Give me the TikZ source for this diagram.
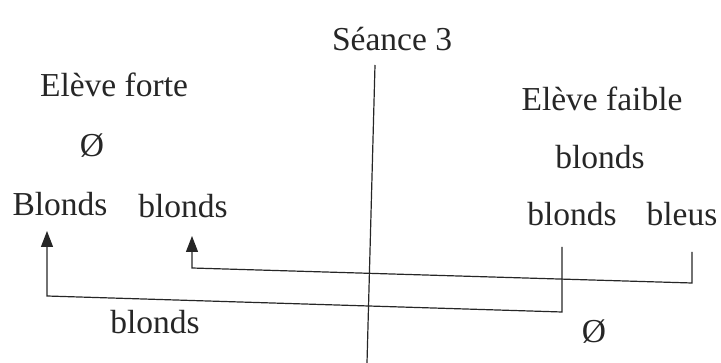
\documentclass[tikz,border=0pt]{standalone}
\usepackage{fontspec}
\setmainfont{Liberation Serif}
\usetikzlibrary{arrows.meta}
\begin{document}
\begin{tikzpicture}[x=1pt,y=-1pt,
  lbl/.style={anchor=base,inner sep=0pt,font=\fontsize{33.5}{36}\selectfont,text=black!85},
  conn/.style={line width=1.2pt,black!85},
  arr/.style={conn,-{Triangle[width=12pt,length=16pt]}}]
\useasboundingbox (0,0) rectangle (721,363);
\node[lbl] (title) at (392,51) {Séance 3};
\node[lbl] (forte) at (114,97) {Elève forte};
\node[lbl] (vide1) at (92,157) {Ø};
\node[lbl] (Blonds) at (60,216) {Blonds};
\node[lbl] (blondsL) at (183,218) {blonds};
\node[lbl] (faible) at (602,111) {Elève faible};
\node[lbl] (blondsR1) at (600,169) {blonds};
\node[lbl] (blondsR2) at (572,226) {blonds};
\node[lbl] (bleus) at (682,226) {bleus};
\node[lbl] (blondsB) at (155,334) {blonds};
\node[lbl] (vide2) at (594,343) {Ø};
\coordinate (vtop) at (375,65);
\coordinate (vbot) at (367,363);
\draw[conn] (vtop) -- (vbot);
\coordinate (s1) at (692,252);
\coordinate (c1a) at (692,283);
\coordinate (c1b) at (192,268);
\coordinate (e1) at (192,236);
\draw[arr] (s1) -- (c1a) -- (c1b) -- (e1);
\coordinate (s2) at (562,247);
\coordinate (c2a) at (562,312);
\coordinate (c2b) at (47,296);
\coordinate (e2) at (47,231);
\draw[arr] (s2) -- (c2a) -- (c2b) -- (e2);
\end{tikzpicture}
\end{document}
